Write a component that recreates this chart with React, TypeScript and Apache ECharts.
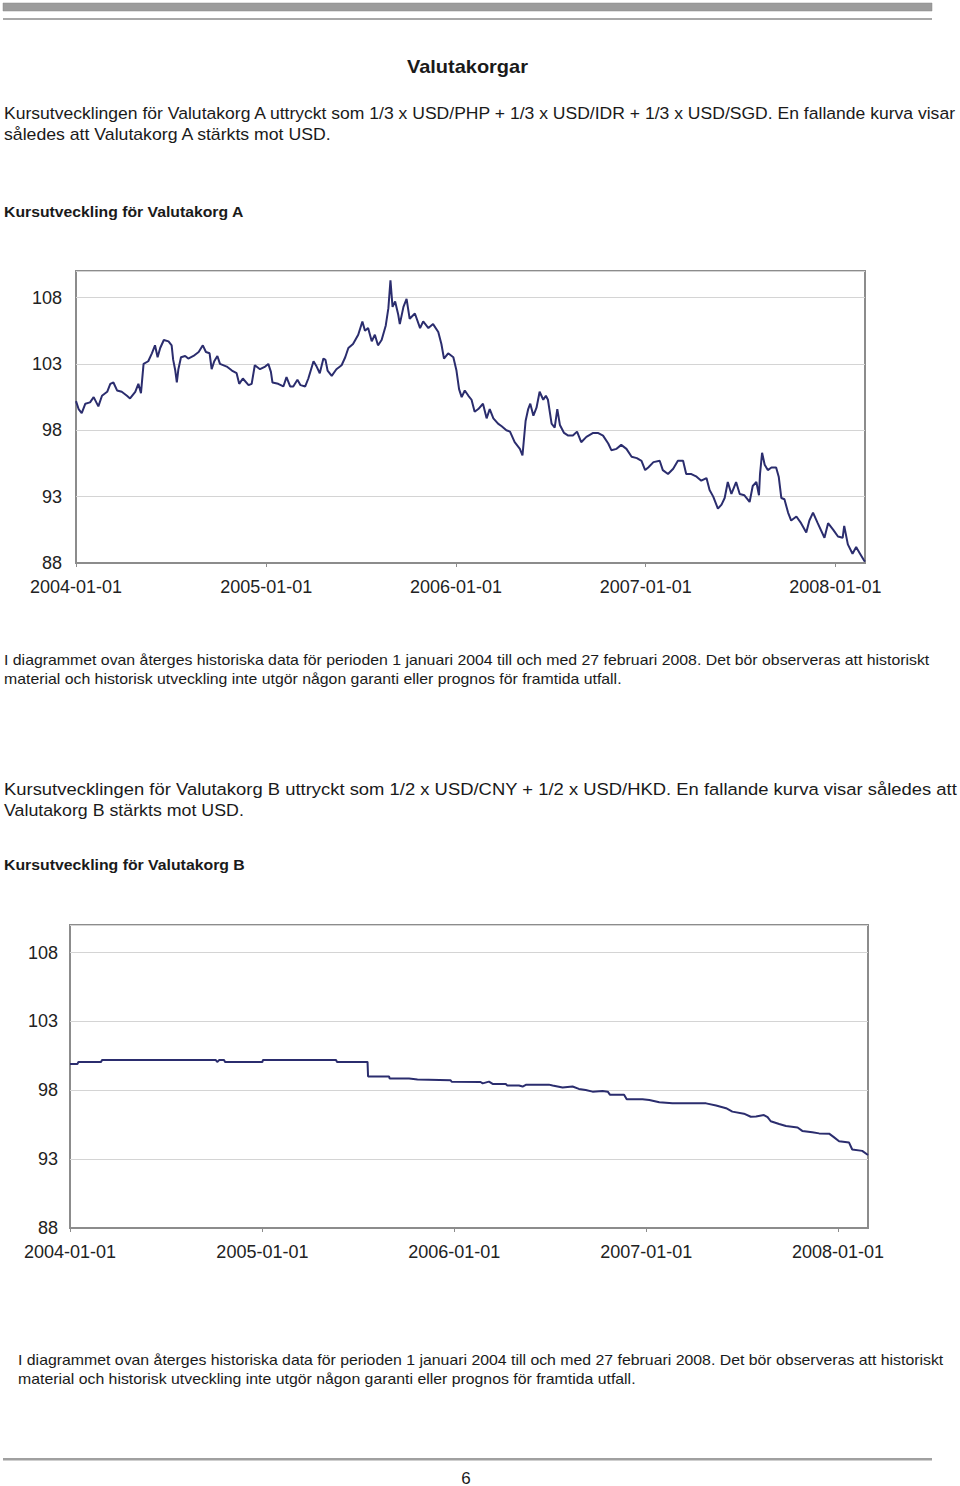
import React, { useEffect, useRef } from 'react';
import * as echarts from 'echarts';

// ---------- data ----------
const yearTicks = ['2004-01-01', '2005-01-01', '2006-01-01', '2007-01-01', '2008-01-01'];
const axisStart = '2004-01-01';
const axisEnd = '2008-02-27';
const yMin = 88;
const yMax = 110;
const yStep = 5;

const datesA = [
  '2004-01-01','2004-01-06','2004-01-12','2004-01-19','2004-01-28','2004-02-04','2004-02-13','2004-02-20','2004-03-01','2004-03-07',
  '2004-03-13','2004-03-20','2004-03-29','2004-04-08','2004-04-14','2004-04-24','2004-04-30','2004-05-05','2004-05-10','2004-05-19',
  '2004-05-26','2004-06-01','2004-06-06','2004-06-11','2004-06-18','2004-06-27','2004-07-03','2004-07-06','2004-07-10','2004-07-13',
  '2004-07-16','2004-07-21','2004-07-29','2004-08-04','2004-08-14','2004-08-24','2004-09-01','2004-09-07','2004-09-14','2004-09-18',
  '2004-09-23','2004-09-29','2004-10-04','2004-10-17','2004-10-27','2004-11-05','2004-11-10','2004-11-17','2004-11-28','2004-12-04',
  '2004-12-10','2004-12-20','2004-12-30','2005-01-05','2005-01-10','2005-01-13','2005-01-24','2005-02-03','2005-02-09','2005-02-16',
  '2005-02-22','2005-03-02','2005-03-08','2005-03-17','2005-03-23','2005-04-02','2005-04-08','2005-04-14','2005-04-21','2005-04-25',
  '2005-04-29','2005-05-07','2005-05-16','2005-05-26','2005-06-02','2005-06-08','2005-06-17','2005-06-27','2005-07-05','2005-07-10',
  '2005-07-16','2005-07-23','2005-07-29','2005-08-04','2005-08-11','2005-08-19','2005-08-24','2005-08-28','2005-09-01','2005-09-06',
  '2005-09-12','2005-09-15','2005-09-22','2005-09-28','2005-10-04','2005-10-14','2005-10-24','2005-10-30','2005-11-09','2005-11-18',
  '2005-11-28','2005-12-04','2005-12-09','2005-12-17','2005-12-27','2006-01-02','2006-01-07','2006-01-12','2006-01-18','2006-01-25',
  '2006-01-31','2006-02-06','2006-02-13','2006-02-22','2006-03-01','2006-03-07','2006-03-14','2006-03-23','2006-03-30','2006-04-08',
  '2006-04-15','2006-04-24','2006-05-04','2006-05-09','2006-05-15','2006-05-20','2006-05-24','2006-05-30','2006-06-05','2006-06-11',
  '2006-06-18','2006-06-23','2006-06-27','2006-07-04','2006-07-10','2006-07-15','2006-07-20','2006-07-28','2006-08-05','2006-08-14',
  '2006-08-22','2006-08-30','2006-09-09','2006-09-22','2006-10-01','2006-10-11','2006-10-21','2006-10-27','2006-11-06','2006-11-15',
  '2006-11-25','2006-12-05','2006-12-15','2006-12-24','2006-12-31','2007-01-06','2007-01-16','2007-01-28','2007-02-03','2007-02-13',
  '2007-02-23','2007-03-04','2007-03-14','2007-03-20','2007-03-30','2007-04-09','2007-04-18','2007-04-28','2007-05-04','2007-05-11',
  '2007-05-20','2007-05-27','2007-06-02','2007-06-08','2007-06-15','2007-06-24','2007-07-01','2007-07-10','2007-07-20','2007-07-26',
  '2007-08-02','2007-08-07','2007-08-09','2007-08-13','2007-08-18','2007-08-24','2007-08-31','2007-09-09','2007-09-14','2007-09-19',
  '2007-09-25','2007-10-02','2007-10-08','2007-10-18','2007-10-27','2007-11-06','2007-11-12','2007-11-19','2007-11-28','2007-12-11',
  '2007-12-18','2007-12-28','2008-01-06','2008-01-15','2008-01-18','2008-01-25','2008-02-03','2008-02-10','2008-02-16','2008-02-25',
  '2008-02-27',
];
const valuesA = [
  100.2,99.6,99.3,100.0,100.1,100.5,99.8,100.6,100.9,101.5,
  101.6,101.0,100.9,100.6,100.4,100.9,101.5,100.8,103.0,103.2,
  103.8,104.4,103.5,104.2,104.8,104.7,104.4,103.3,102.5,101.6,
  102.6,103.5,103.6,103.4,103.6,103.9,104.4,103.9,103.8,102.6,
  103.2,103.6,103.0,102.8,102.5,102.3,101.5,101.9,101.4,101.5,
  102.9,102.6,102.8,103.0,102.4,101.6,101.5,101.3,102.0,101.3,
  101.3,101.8,101.4,101.3,101.9,103.2,102.8,102.3,103.4,103.3,
  102.5,102.1,102.6,102.9,103.5,104.2,104.5,105.2,106.2,105.5,
  105.7,104.7,105.2,104.4,104.8,105.9,107.2,109.3,107.3,107.7,
  106.7,106.0,107.3,107.9,106.4,106.8,105.7,106.2,105.7,106.0,
  105.4,104.5,103.4,103.8,103.5,102.5,101.1,100.5,101.0,100.6,
  100.3,99.4,99.6,100.0,98.9,99.6,98.9,98.5,98.3,98.0,
  97.9,97.1,96.6,96.1,98.7,99.6,100.0,99.1,99.7,100.9,
  100.3,100.6,100.3,98.5,98.2,99.6,98.4,97.8,97.6,97.6,
  97.9,97.1,97.5,97.8,97.8,97.6,97.0,96.5,96.6,96.9,
  96.6,96.0,95.9,95.7,95.0,95.2,95.6,95.7,95.0,94.7,
  95.1,95.7,95.7,94.7,94.7,94.5,94.2,94.4,93.5,93.0,
  92.1,92.4,92.9,94.1,93.2,94.1,93.2,93.1,92.6,93.8,
  94.1,93.1,94.7,96.3,95.4,95.0,95.2,95.2,94.5,92.9,
  92.8,91.8,91.2,91.5,91.0,90.3,91.2,91.8,91.0,89.9,
  91.0,90.5,90.0,89.9,90.8,89.4,88.7,89.2,88.8,88.2,
  88.1,
];

const datesB = [
  '2004-01-01','2004-01-15','2004-01-17','2004-02-29','2004-03-02','2004-10-04','2004-10-07','2004-10-11','2004-10-20','2004-10-22',
  '2005-01-01','2005-01-02','2005-05-21','2005-05-23','2005-07-20','2005-07-21','2005-08-30','2005-08-31','2005-10-07','2005-10-23',
  '2005-12-25','2005-12-27','2006-02-20','2006-02-24','2006-03-08','2006-03-15','2006-04-09','2006-04-12','2006-05-04','2006-05-11',
  '2006-05-18','2006-06-30','2006-07-07','2006-07-26','2006-08-14','2006-08-26','2006-09-08','2006-09-21','2006-10-10','2006-10-20',
  '2006-10-24','2006-11-20','2006-11-25','2006-12-25','2007-01-07','2007-01-26','2007-02-20','2007-04-25','2007-05-14','2007-06-02',
  '2007-06-14','2007-07-06','2007-07-19','2007-07-29','2007-08-13','2007-08-20','2007-08-26','2007-09-11','2007-09-24','2007-10-16',
  '2007-10-25','2007-11-13','2007-11-26','2007-12-15','2007-12-24','2008-01-03','2008-01-22','2008-01-28','2008-02-16','2008-02-27',
];
const valuesB = [
  99.9,99.9,100.05,100.05,100.2,100.2,100.06,100.2,100.2,100.06,
  100.06,100.2,100.2,100.06,100.06,99.0,99.0,98.85,98.85,98.78,
  98.73,98.62,98.6,98.5,98.63,98.46,98.46,98.34,98.34,98.27,
  98.41,98.41,98.34,98.2,98.27,98.1,98.02,97.9,97.95,97.9,
  97.68,97.68,97.35,97.35,97.3,97.13,97.05,97.05,96.9,96.7,
  96.45,96.3,96.08,96.1,96.2,96.05,95.75,95.55,95.4,95.3,
  95.05,94.95,94.87,94.85,94.6,94.3,94.2,93.7,93.6,93.3,
];

const titleText = 'Valutakorgar';
const introA = [
  'Kursutvecklingen för Valutakorg A uttryckt som 1/3 x USD/PHP + 1/3 x USD/IDR + 1/3 x USD/SGD. En fallande kurva visar',
  'således att Valutakorg A stärkts mot USD.',
];
const headingA = 'Kursutveckling för Valutakorg A';
const noteLines = [
  'I diagrammet ovan återges historiska data för perioden 1 januari 2004 till och med 27 februari 2008. Det bör observeras att historiskt',
  'material och historisk utveckling inte utgör någon garanti eller prognos för framtida utfall.',
];
const introB = [
  'Kursutvecklingen för Valutakorg B uttryckt som 1/2 x USD/CNY + 1/2 x USD/HKD. En fallande kurva visar således att',
  'Valutakorg B stärkts mot USD.',
];
const headingB = 'Kursutveckling för Valutakorg B';
const pageNumber = '6';

// ---------- helpers ----------
const FONT = '"Liberation Sans", Arial, Helvetica, sans-serif';
const LINE_COLOR = '#2b2d6e';
const TEXT_COLOR = '#1a1a1a';

function ts(d: string): number {
  const [y, m, dd] = d.split('-').map(Number);
  return Date.UTC(y, m - 1, dd);
}
function pad(n: number) {
  return n < 10 ? '0' + n : String(n);
}
function fmtDate(v: number) {
  const d = new Date(v);
  return d.getUTCFullYear() + '-' + pad(d.getUTCMonth() + 1) + '-' + pad(d.getUTCDate());
}

let measureCtx: CanvasRenderingContext2D | null = null;
function measure(text: string, size: number, weight: string) {
  if (!measureCtx) measureCtx = document.createElement('canvas').getContext('2d');
  if (!measureCtx) return text.length * size * 0.5;
  measureCtx.font = `${weight} ${size}px ${FONT}`;
  return measureCtx.measureText(text).width;
}

function fitText(text: string, left: number, right: number, cy: number, size: number, weight = 'normal') {
  const w = measure(text, size, weight);
  const s = (right - left) / w;
  return {
    type: 'text',
    x: left,
    y: cy,
    scaleX: s,
    silent: true,
    style: {
      text,
      fontSize: size,
      fontFamily: FONT,
      fontWeight: weight,
      fill: TEXT_COLOR,
      textAlign: 'left',
      textVerticalAlign: 'middle',
      align: 'left',
      verticalAlign: 'middle',
    },
  };
}

function makeXAxis(gridIndex: number) {
  const ticks = yearTicks.map(ts);
  return {
    type: 'value',
    gridIndex,
    min: ts(axisStart),
    max: ts(axisEnd),
    splitLine: { show: false },
    axisLine: { show: true, lineStyle: { color: '#8c8c8c', width: 2 } },
    axisTick: { show: true, customValues: ticks, length: 4, lineStyle: { color: '#8c8c8c', width: 1 } },
    axisLabel: {
      customValues: ticks,
      formatter: (v: number) => fmtDate(v),
      fontFamily: FONT,
      fontSize: 18,
      color: '#222',
      margin: 15,
    },
  };
}

function makeYAxis(gridIndex: number, margin: number) {
  return {
    type: 'value',
    gridIndex,
    min: yMin,
    max: yMax,
    interval: yStep,
    axisLine: { show: false },
    axisTick: { show: false },
    splitLine: { show: true, lineStyle: { color: '#d4d4d4', width: 1 } },
    axisLabel: {
      formatter: (v: number) => (v >= yMax - 0.01 ? '' : String(v)),
      fontFamily: FONT,
      fontSize: 18,
      color: '#222',
      margin,
    },
  };
}

export default function App() {
  const ref = useRef<HTMLDivElement>(null);

  useEffect(() => {
    if (!ref.current) return;
    const chart = echarts.init(ref.current, null, { renderer: 'svg' });

    const seriesA = datesA.map((d, i) => [ts(d), valuesA[i]]);
    const seriesB = datesB.map((d, i) => [ts(d), valuesB[i]]);

    const graphics: any[] = [
      // top rule
      { type: 'rect', silent: true, shape: { x: 3, y: 3, width: 929, height: 8 }, style: { fill: '#9c9c9c', stroke: '#8a8a8a', lineWidth: 0.5 } },
      { type: 'rect', silent: true, shape: { x: 3, y: 18, width: 929, height: 2 }, style: { fill: '#a8a8a8' } },
      // footer rule
      { type: 'rect', silent: true, shape: { x: 3, y: 1458, width: 929, height: 2.5 }, style: { fill: '#a0a0a0' } },
      fitText(titleText, 407, 528, 67, 18, 'bold'),
      fitText(introA[0], 4, 958, 113, 17),
      fitText(introA[1], 4, 333, 134, 17),
      fitText(headingA, 4, 244, 212, 15, 'bold'),
      fitText(noteLines[0], 4, 931, 660, 14),
      fitText(noteLines[1], 4, 622, 679, 14),
      fitText(introB[0], 4, 958, 789, 17),
      fitText(introB[1], 4, 244, 810, 17),
      fitText(headingB, 4, 245, 865, 15, 'bold'),
      fitText(noteLines[0], 18, 945, 1360, 14),
      fitText(noteLines[1], 18, 636, 1379, 14),
      {
        type: 'text',
        x: 466,
        y: 1478,
        silent: true,
        style: {
          text: pageNumber,
          fontSize: 17,
          fontFamily: FONT,
          fill: TEXT_COLOR,
          textAlign: 'center',
          textVerticalAlign: 'middle',
          align: 'center',
          verticalAlign: 'middle',
        },
      },
    ];

    chart.setOption({
      animation: false,
      backgroundColor: '#ffffff',
      grid: [
        { left: 76, top: 271, width: 789, height: 292, show: true, borderColor: '#8c8c8c', borderWidth: 2, backgroundColor: 'transparent' },
        { left: 70, top: 925, width: 798, height: 303, show: true, borderColor: '#8c8c8c', borderWidth: 2, backgroundColor: 'transparent' },
      ],
      xAxis: [makeXAxis(0), makeXAxis(1)],
      yAxis: [makeYAxis(0, 14), makeYAxis(1, 12)],
      series: [
        {
          type: 'line',
          xAxisIndex: 0,
          yAxisIndex: 0,
          data: seriesA,
          showSymbol: false,
          symbol: 'none',
          lineStyle: { color: LINE_COLOR, width: 2 },
        },
        {
          type: 'line',
          xAxisIndex: 1,
          yAxisIndex: 1,
          data: seriesB,
          showSymbol: false,
          symbol: 'none',
          lineStyle: { color: LINE_COLOR, width: 2 },
        },
      ],
      graphic: { elements: graphics },
    });

    return () => {
      chart.dispose();
    };
  }, []);

  return (
    <div
      ref={ref}
      style={{ position: 'absolute', left: 0, top: 0, width: 960, height: 1486, background: '#fff' }}
    />
  );
}
